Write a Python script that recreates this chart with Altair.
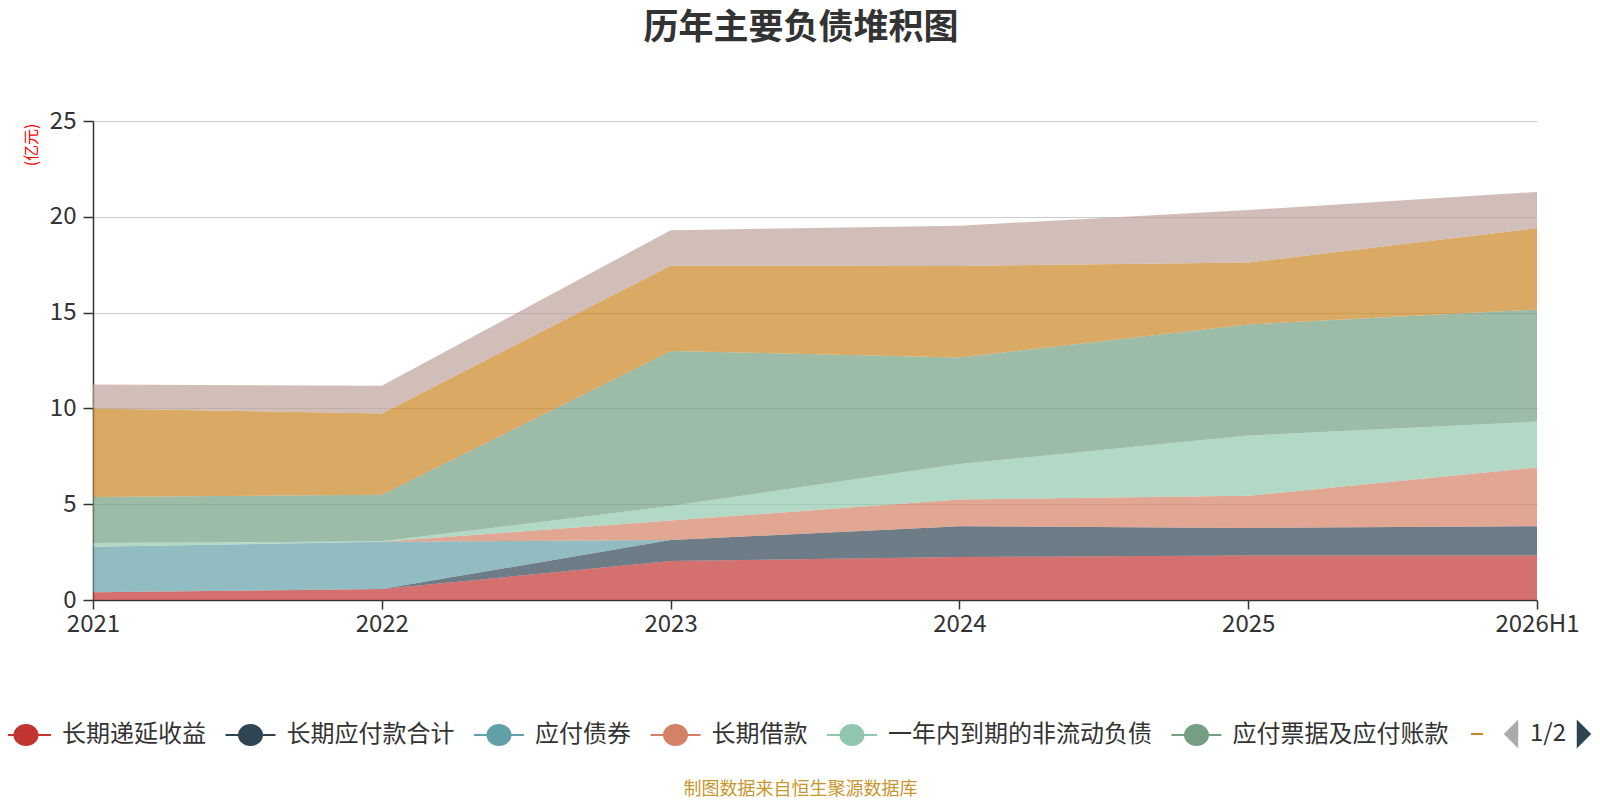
import altair as alt
import pandas as pd

FONT = "Noto Sans CJK SC"

years = ["2021", "2022", "2023", "2024", "2025", "2026H1"]
series_names = ["长期递延收益", "长期应付款合计", "应付债券", "长期借款",
                "一年内到期的非流动负债", "应付票据及应付账款", "短期借款", "合同负债"]
colors = ["#c23531", "#2f4554", "#61a0a8", "#d48265",
          "#91c7ae", "#749f83", "#ca8622", "#bda29a"]

v_deferred = [0.40, 0.57, 2.03, 2.24, 2.32, 2.32]
v_lt_payable = [0.00, 0.00, 1.10, 1.61, 1.44, 1.53]
v_bonds = [2.38, 2.47, 0.00, 0.00, 0.00, 0.00]
v_lt_loans = [0.00, 0.00, 1.02, 1.39, 1.68, 3.07]
v_current_ncl = [0.19, 0.02, 0.75, 1.86, 3.14, 2.39]
v_notes_ap = [2.41, 2.43, 8.10, 5.56, 5.80, 5.85]
v_orange = [4.62, 4.25, 4.45, 4.77, 3.23, 4.25]
v_brown = [1.25, 1.44, 1.85, 2.10, 2.74, 1.89]

all_values = [v_deferred, v_lt_payable, v_bonds, v_lt_loans,
              v_current_ncl, v_notes_ap, v_orange, v_brown]

pager_text = ["1/2"]

rows = []
for i, (name, vals) in enumerate(zip(series_names, all_values)):
    for yr, v in zip(years, vals):
        rows.append({"年份": yr, "项目": name, "金额": v, "序": i})
df = pd.DataFrame(rows)

SYMBOL = "M-1,0H-0.46M0.46,0H1M-0.46,0A0.46,0.4,0,1,1,0.46,0A0.46,0.4,0,1,1,-0.46,0Z"

def make_legend():
    return alt.Legend(
        values=series_names[:6], orient="none", legendX=-93, legendY=588,
        direction="horizontal", title=None, symbolType=SYMBOL, symbolSize=2500,
        symbolStrokeWidth=2, symbolOpacity=1, labelFontSize=24, labelColor="#333",
        labelFont=FONT, labelLimit=600, columnPadding=15.5, labelOffset=10,
    )

color_scale = alt.Scale(domain=series_names, range=colors)

area = alt.Chart(df).mark_area(opacity=0.7, strokeWidth=0).encode(
    x=alt.X("年份:O", sort=years, scale=alt.Scale(padding=0),
            axis=alt.Axis(labelAngle=0, title="制图数据来自恒生聚源数据库",
                          titleColor="#c9962e", titleFontSize=18, titleFontWeight="normal",
                          titleFont=FONT, titleX=707, titleY=189, titleAlign="center",
                          titleBaseline="middle",
                          labelFontSize=24, labelColor="#333", labelFont=FONT,
                          labelPadding=3, tickSize=9, tickColor="#333", tickWidth=1.5,
                          domainColor="#333", domainWidth=1.5, grid=False)),
    y=alt.Y("金额:Q", stack="zero", scale=alt.Scale(domain=[0, 25]),
            axis=alt.Axis(values=[0, 5, 10, 15, 20, 25], title="(亿元)",
                          titleColor="#ff0000", titleFontSize=16, titleFontWeight="normal",
                          titleFont=FONT, titleX=-62, titleY=2, titleAngle=270,
                          titleAlign="right", titleBaseline="middle",
                          labelFontSize=24, labelColor="#333", labelFont=FONT,
                          labelPadding=7, tickSize=10, tickColor="#333", tickWidth=1.5,
                          domainColor="#333", domainWidth=1.5,
                          grid=True, gridColor="#cccccc", gridWidth=1)),
    color=alt.Color("项目:N", scale=color_scale, legend=make_legend()),
    stroke=alt.Stroke("项目:N", scale=color_scale, legend=make_legend()),
    order=alt.Order("序:Q"),
)

pager_df = pd.DataFrame({"t": pager_text})

stub = alt.Chart(pager_df).mark_rule(color="#ca8622", strokeWidth=2).encode(
    x=alt.value(1378), x2=alt.value(1390), y=alt.value(613))
left_arrow = alt.Chart(pager_df).mark_point(
    shape="M0.5,-1L-0.5,0L0.5,1Z", filled=True, color="#aaaaaa", opacity=1, size=841
).encode(x=alt.value(1418), y=alt.value(613))
right_arrow = alt.Chart(pager_df).mark_point(
    shape="M-0.5,-1L0.5,0L-0.5,1Z", filled=True, color="#2f4554", opacity=1, size=841
).encode(x=alt.value(1491), y=alt.value(613))
pager = alt.Chart(pager_df).mark_text(
    font=FONT, fontSize=24, color="#333", align="center", baseline="middle"
).encode(x=alt.value(1455), y=alt.value(613), text="t:N")

chart = alt.layer(area, stub, left_arrow, right_arrow, pager).properties(
    width=1444, height=479,
    title=alt.TitleParams("历年主要负债堆积图", fontSize=35, fontWeight="bold",
                          color="#333", font=FONT, anchor="middle", offset=63, dx=-14),
    autosize=alt.AutoSizeParams(type="none"),
    padding={"left": 85, "top": 113, "right": 55, "bottom": 200},
).configure_view(stroke=None)

chart.save("out.html", embed_options={"renderer": "svg", "actions": False})
